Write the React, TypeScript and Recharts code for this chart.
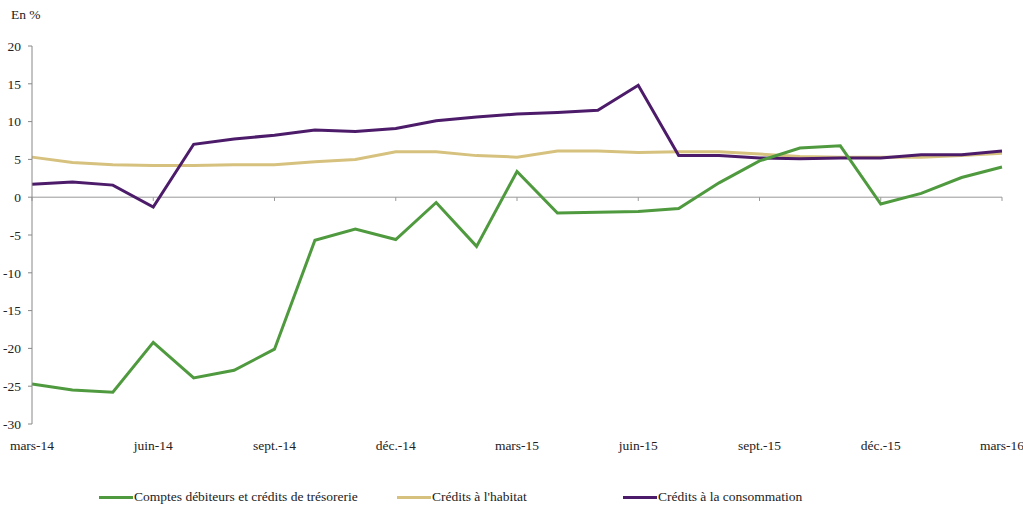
import React from 'react';
import { LineChart, Line, XAxis, YAxis, ReferenceLine, Legend } from 'recharts';

const months = [
  'mars-14', 'avr.-14', 'mai-14', 'juin-14', 'juil.-14', 'août-14', 'sept.-14', 'oct.-14', 'nov.-14', 'déc.-14',
  'janv.-15', 'févr.-15', 'mars-15', 'avr.-15', 'mai-15', 'juin-15', 'juil.-15', 'août-15', 'sept.-15', 'oct.-15',
  'nov.-15', 'déc.-15', 'janv.-16', 'févr.-16', 'mars-16',
];
const comptes = [
  -24.7, -25.5, -25.8, -19.2, -23.9, -22.9, -20.1, -5.7, -4.2, -5.6,
  -0.7, -6.5, 3.4, -2.1, -2.0, -1.9, -1.5, 1.9, 4.8, 6.5,
  6.8, -0.9, 0.5, 2.6, 4.0,
];
const habitat = [
  5.3, 4.6, 4.3, 4.2, 4.2, 4.3, 4.3, 4.7, 5.0, 6.0,
  6.0, 5.5, 5.3, 6.1, 6.1, 5.9, 6.0, 6.0, 5.7, 5.4,
  5.3, 5.3, 5.3, 5.5, 5.8,
];
const consommation = [
  1.7, 2.0, 1.6, -1.3, 7.0, 7.7, 8.2, 8.9, 8.7, 9.1,
  10.1, 10.6, 11.0, 11.2, 11.5, 14.8, 5.5, 5.5, 5.2, 5.1,
  5.2, 5.2, 5.6, 5.6, 6.1,
];
const yTicks = [-30, -25, -20, -15, -10, -5, 0, 5, 10, 15, 20];
const seriesNames = ['Comptes débiteurs et crédits de trésorerie', "Crédits à l'habitat", 'Crédits à la consommation'];
const colors = ['#4f9a3e', '#d6c27e', '#4c1b69'];

const data = months.map((m, i) => ({
  month: m,
  comptes: comptes[i],
  habitat: habitat[i],
  consommation: consommation[i],
}));

const tickMonths = months.filter((_, i) => i % 3 === 0);

const FONT = '"Liberation Serif", serif';

const legendItems = [
  { name: seriesNames[0], color: colors[0], left: 99 },
  { name: seriesNames[1], color: colors[1], left: 397 },
  { name: seriesNames[2], color: colors[2], left: 623 },
];

const CustomLegend = () => (
  <div style={{ position: 'relative', width: 1023, height: 24, fontFamily: FONT, fontSize: 13.5, color: '#222' }}>
    {legendItems.map((it) => (
      <div key={it.name} style={{ position: 'absolute', left: it.left, top: 4, display: 'flex', alignItems: 'center', whiteSpace: 'nowrap' }}>
        <span style={{ display: 'inline-block', width: 34, height: 3, background: it.color, marginRight: 1 }} />
        <span>{it.name}</span>
      </div>
    ))}
  </div>
);

export default function App() {
  return (
    <div style={{ position: 'absolute', left: 0, top: 0, width: 1023, height: 509, background: '#fff', fontFamily: FONT }}>
      <div style={{ position: 'absolute', left: 11, top: 7, fontFamily: FONT, fontSize: 13.5, color: '#222', zIndex: 2 }}>En %</div>
      <LineChart width={1023} height={509} data={data} margin={{ top: 46, right: 21, left: 0, bottom: 0 }} style={{ fontFamily: FONT }}>
        <XAxis
          dataKey="month"
          ticks={tickMonths}
          interval={0}
          axisLine={false}
          tickLine={false}
          tickSize={0}
          tickMargin={16}
          height={61}
          tick={{ fontFamily: FONT, fontSize: 13.5, fill: '#222' }}
        />
        <YAxis
          domain={[-30, 20]}
          ticks={yTicks}
          width={32}
          allowDataOverflow
          axisLine={{ stroke: '#888' }}
          tickLine={{ stroke: '#888' }}
          tickSize={4}
          tickMargin={7}
          tick={{ fontFamily: FONT, fontSize: 13.5, fill: '#222' }}
        />
        <ReferenceLine y={0} stroke="#999" strokeWidth={1} ifOverflow="extendDomain" />
        {tickMonths.map((m) => (
          <ReferenceLine key={m} segment={[{ x: m, y: 0 }, { x: m, y: -0.5 }]} stroke="#999" strokeWidth={1} />
        ))}
        <Line type="linear" dataKey="habitat" name={seriesNames[1]} stroke={colors[1]} strokeWidth={3} dot={false} isAnimationActive={false} />
        <Line type="linear" dataKey="consommation" name={seriesNames[2]} stroke={colors[2]} strokeWidth={3} dot={false} isAnimationActive={false} />
        <Line type="linear" dataKey="comptes" name={seriesNames[0]} stroke={colors[0]} strokeWidth={3} dot={false} isAnimationActive={false} />
        <Legend verticalAlign="bottom" height={24} content={() => <CustomLegend />} wrapperStyle={{ left: 0, width: 1023 }} />
      </LineChart>
    </div>
  );
}
